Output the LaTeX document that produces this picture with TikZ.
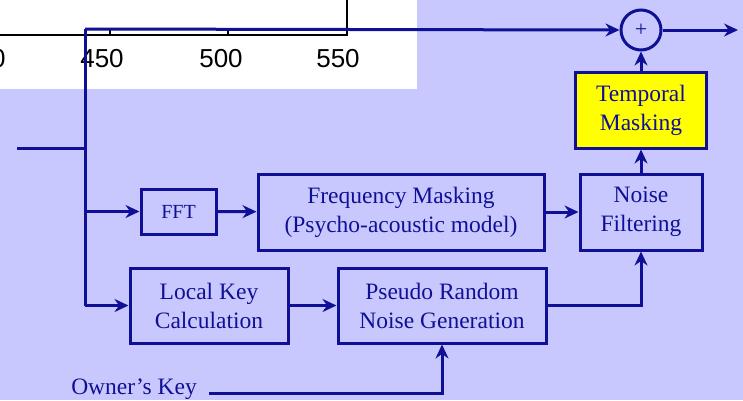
\documentclass[tikz,border=0pt]{standalone}
\usepackage{fontspec}
\setmainfont{Liberation Serif}
\newfontfamily\axisfont{Liberation Sans}
\usetikzlibrary{arrows.meta}
\definecolor{bgblue}{RGB}{200,200,255}
\definecolor{ink}{RGB}{16,16,150}
\definecolor{hilite}{RGB}{255,255,0}
\begin{document}
\begin{tikzpicture}[x=1pt,y=-1pt,
  blk/.style={draw=ink, line width=3pt, text=ink, align=center, inner sep=0pt,
              font=\fontsize{23.5}{29}\selectfont},
  wire/.style={draw=ink, line width=3pt},
  arr/.style={wire, -{Stealth[length=14pt,width=13pt]}},
  axis/.style={draw=black, line width=2.6pt},
  ticklbl/.style={font=\axisfont\fontsize{26}{30}\selectfont, text=black, inner sep=0pt}]
\useasboundingbox (0,0) rectangle (743,400);
\clip (0,0) rectangle (743,400);
\fill[bgblue] (0,0) rectangle (743,400);

% plot fragment in the upper left corner
\fill[white] (0,0) rectangle (417,89);
\draw[axis] (0,35) -- (347,35) -- (347,0);
\draw[axis] (110,35) -- (110,30);
\draw[axis] (228,35) -- (228,30);
\node[ticklbl] (t400) at (-16,59) {400};
\node[ticklbl] (t450) at (102,59) {450};
\node[ticklbl] (t500) at (221,59) {500};
\node[ticklbl] (t550) at (338,59) {550};

% blocks
\node[blk, minimum width=75pt, minimum height=45pt, font=\fontsize{20}{24}\selectfont]
  (fft) at (178.5,211.5) {FFT};
\node[blk, minimum width=286pt, minimum height=76pt] (fm) at (401,212)
  {Frequency Masking\\(Psycho-acoustic model)};
\node[blk, minimum width=122pt, minimum height=76pt] (nf) at (641,212)
  {Noise\\Filtering};
\node[blk, fill=hilite, minimum width=131pt, minimum height=76pt] (tm) at (641,110)
  {Temporal\\Masking};
\node[blk, minimum width=158pt, minimum height=75pt] (lk) at (209,305.5)
  {Local Key\\Calculation};
\node[blk, minimum width=208pt, minimum height=75pt] (pr) at (442,305.5)
  {Pseudo Random\\Noise Generation};
\node[blk, circle, minimum size=40pt, font=\fontsize{22}{24}\selectfont]
  (sum) at (641,30) {\raisebox{-5pt}{+}};
\node[text=ink, anchor=base east, inner sep=0pt, font=\fontsize{23.5}{29}\selectfont]
  (owner) at (197,394) {Owner’s Key};

% connection points
\coordinate (in) at (17,148);
\coordinate (top) at (85,29);
\coordinate (bot) at (85,305.5);
\coordinate (out) at (738,30);
\coordinate (ownend) at (209,393);

% signal paths
\draw[wire] (in) -- (in -| top);
\draw[wire] (top) -- (bot);
\draw[arr] (top) -- (sum.west);
\draw[arr] (sum.east) -- (out);
\draw[arr] (fft.west -| top) -- (fft.west);
\draw[arr] (bot) -- (lk.west);
\draw[arr] (fft) -- (fm);
\draw[arr] (fm) -- (nf);
\draw[arr] (nf) -- (tm);
\draw[arr] (tm) -- (sum);
\draw[arr] (lk) -- (pr);
\draw[arr] (pr.east) -| (nf.south);
\draw[arr] (ownend) -| (pr.south);
\end{tikzpicture}
\end{document}
